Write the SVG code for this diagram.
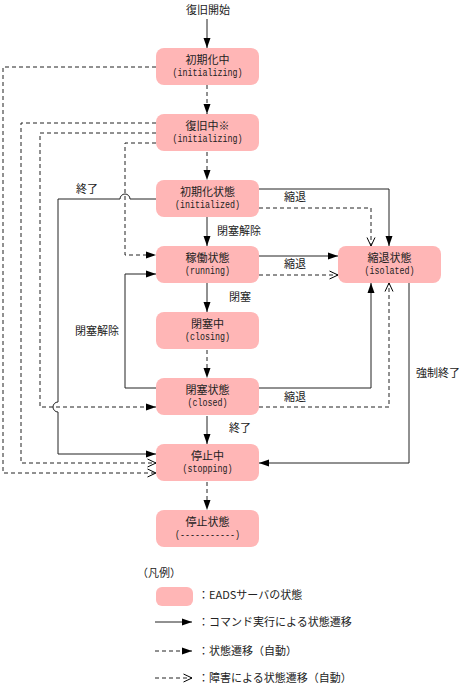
<svg xmlns="http://www.w3.org/2000/svg" width="460" height="689" viewBox="0 0 460 689">
<style>
.n{fill:#ffb6b6;stroke:none}
.j{font-family:"Noto Sans CJK JP","Noto Sans",sans-serif;font-size:11px;fill:#222}
.m{font-family:"Liberation Mono","DejaVu Sans Mono",monospace;font-size:11px;fill:#222}
.c{text-anchor:middle}
.s{fill:none;stroke:#222;stroke-width:1}
.d{fill:none;stroke:#222;stroke-width:1;stroke-dasharray:4,3}
.a{marker-end:url(#fa)}
.o{marker-end:url(#oa)}
</style>
<defs>
<marker id="fa" markerUnits="userSpaceOnUse" markerWidth="10" markerHeight="7" refX="10" refY="3.5" orient="auto" overflow="visible">
<path d="M0,0 L10,3.5 L0,7 z" fill="#000" stroke="none"/>
</marker>
<marker id="oa" markerUnits="userSpaceOnUse" markerWidth="9" markerHeight="8" refX="8.5" refY="4" orient="auto" overflow="visible">
<path d="M0,0 L8.5,4 L0,8" fill="none" stroke="#000" stroke-width="1" stroke-dasharray="none"/>
</marker>
</defs>
<rect width="460" height="689" fill="#fff"/>
<g id="connectors">
<path class="s a" d="M207,19 V48"/>
<path class="d a" d="M207,85 V114"/>
<path class="d a" d="M207,152 V180"/>
<path class="s a" d="M207,217 V246"/>
<path class="s a" d="M207,283 V312"/>
<path class="d a" d="M207,350 V378"/>
<path class="s a" d="M207,416 V444"/>
<path class="d a" d="M207,482 V510"/>
<path class="d o" d="M156,67 H3 V473 H156"/>
<path class="d o" d="M156,123 H21 V463 H156"/>
<path class="d a" d="M156,133 H40 V407 H156"/>
<path class="d a" d="M156,143 H125 V255 H156"/>
<path class="s a" d="M156,199 H130 A5,5 0 0 0 120,199 H58 V402 A5,5 0 0 0 58,412 V454 H156"/>
<path class="s a" d="M156,388 H125 V274 H156"/>
<path class="s a" d="M259,189 H389 V246"/>
<path class="d o" d="M259,208 H371 V246"/>
<path class="s a" d="M259,256 H338"/>
<path class="d o" d="M259,275 H338"/>
<path class="s a" d="M259,388 H371 V283"/>
<path class="d o" d="M259,407 H389 V283"/>
<path class="s a" d="M409,283 V463 H259"/>
<text class="j" x="186" y="13.5">復旧開始</text>
<text class="j" x="76" y="193">終了</text>
<text class="j" x="217" y="235">閉塞解除</text>
<text class="j" x="284" y="201">縮退</text>
<text class="j" x="284" y="268">縮退</text>
<text class="j" x="229" y="301">閉塞</text>
<text class="j" x="75" y="335">閉塞解除</text>
<text class="j" x="284" y="401">縮退</text>
<text class="j" x="229" y="432">終了</text>
<text class="j" x="416" y="377">強制終了</text>
</g>
<g id="n-initializing">
<rect class="n" x="156" y="48" width="103" height="37" rx="8"/>
<text class="j c" x="207.5" y="64">初期化中</text>
<text class="m c" x="207.5" y="75.5" textLength="70" lengthAdjust="spacingAndGlyphs">(initializing)</text>
</g>
<g id="n-recovering">
<rect class="n" x="156" y="114" width="103" height="37" rx="8"/>
<text class="j c" x="207.5" y="130">復旧中※</text>
<text class="m c" x="207.5" y="141.5" textLength="70" lengthAdjust="spacingAndGlyphs">(initializing)</text>
</g>
<g id="n-initialized">
<rect class="n" x="156" y="180" width="103" height="37" rx="8"/>
<text class="j c" x="207.5" y="196">初期化状態</text>
<text class="m c" x="207.5" y="207.5" textLength="65" lengthAdjust="spacingAndGlyphs">(initialized)</text>
</g>
<g id="n-running">
<rect class="n" x="156" y="246" width="103" height="37" rx="8"/>
<text class="j c" x="207.5" y="262">稼働状態</text>
<text class="m c" x="207.5" y="273.5" textLength="45" lengthAdjust="spacingAndGlyphs">(running)</text>
</g>
<g id="n-closing">
<rect class="n" x="156" y="312" width="103" height="37" rx="8"/>
<text class="j c" x="207.5" y="328">閉塞中</text>
<text class="m c" x="207.5" y="339.5" textLength="45" lengthAdjust="spacingAndGlyphs">(closing)</text>
</g>
<g id="n-closed">
<rect class="n" x="156" y="378" width="103" height="37" rx="8"/>
<text class="j c" x="207.5" y="394">閉塞状態</text>
<text class="m c" x="207.5" y="405.5" textLength="40" lengthAdjust="spacingAndGlyphs">(closed)</text>
</g>
<g id="n-stopping">
<rect class="n" x="156" y="444" width="103" height="37" rx="8"/>
<text class="j c" x="207.5" y="460">停止中</text>
<text class="m c" x="207.5" y="471.5" textLength="50" lengthAdjust="spacingAndGlyphs">(stopping)</text>
</g>
<g id="n-stopped">
<rect class="n" x="156" y="510" width="103" height="37" rx="8"/>
<text class="j c" x="207.5" y="526">停止状態</text>
<text class="m c" x="207.5" y="537.5" textLength="65" lengthAdjust="spacingAndGlyphs">(-----------)</text>
</g>
<g id="n-isolated">
<rect class="n" x="338" y="246" width="103" height="37" rx="8"/>
<text class="j c" x="389.5" y="262">縮退状態</text>
<text class="m c" x="389.5" y="273.5" textLength="50" lengthAdjust="spacingAndGlyphs">(isolated)</text>
</g>
<g id="legend">
<text class="j" x="137" y="577">（凡例）</text>
<rect class="n" x="156" y="587" width="37" height="19" rx="6"/>
<text class="j" x="198" y="599">：EADSサーバの状態</text>
<path class="s a" d="M155,622 H192"/>
<text class="j" x="198" y="626">：コマンド実行による状態遷移</text>
<path class="d a" d="M155,651 H192"/>
<text class="j" x="198" y="655">：状態遷移（自動）</text>
<path class="d o" d="M155,678 H192"/>
<text class="j" x="198" y="682">：障害による状態遷移（自動）</text>
</g>
</svg>
